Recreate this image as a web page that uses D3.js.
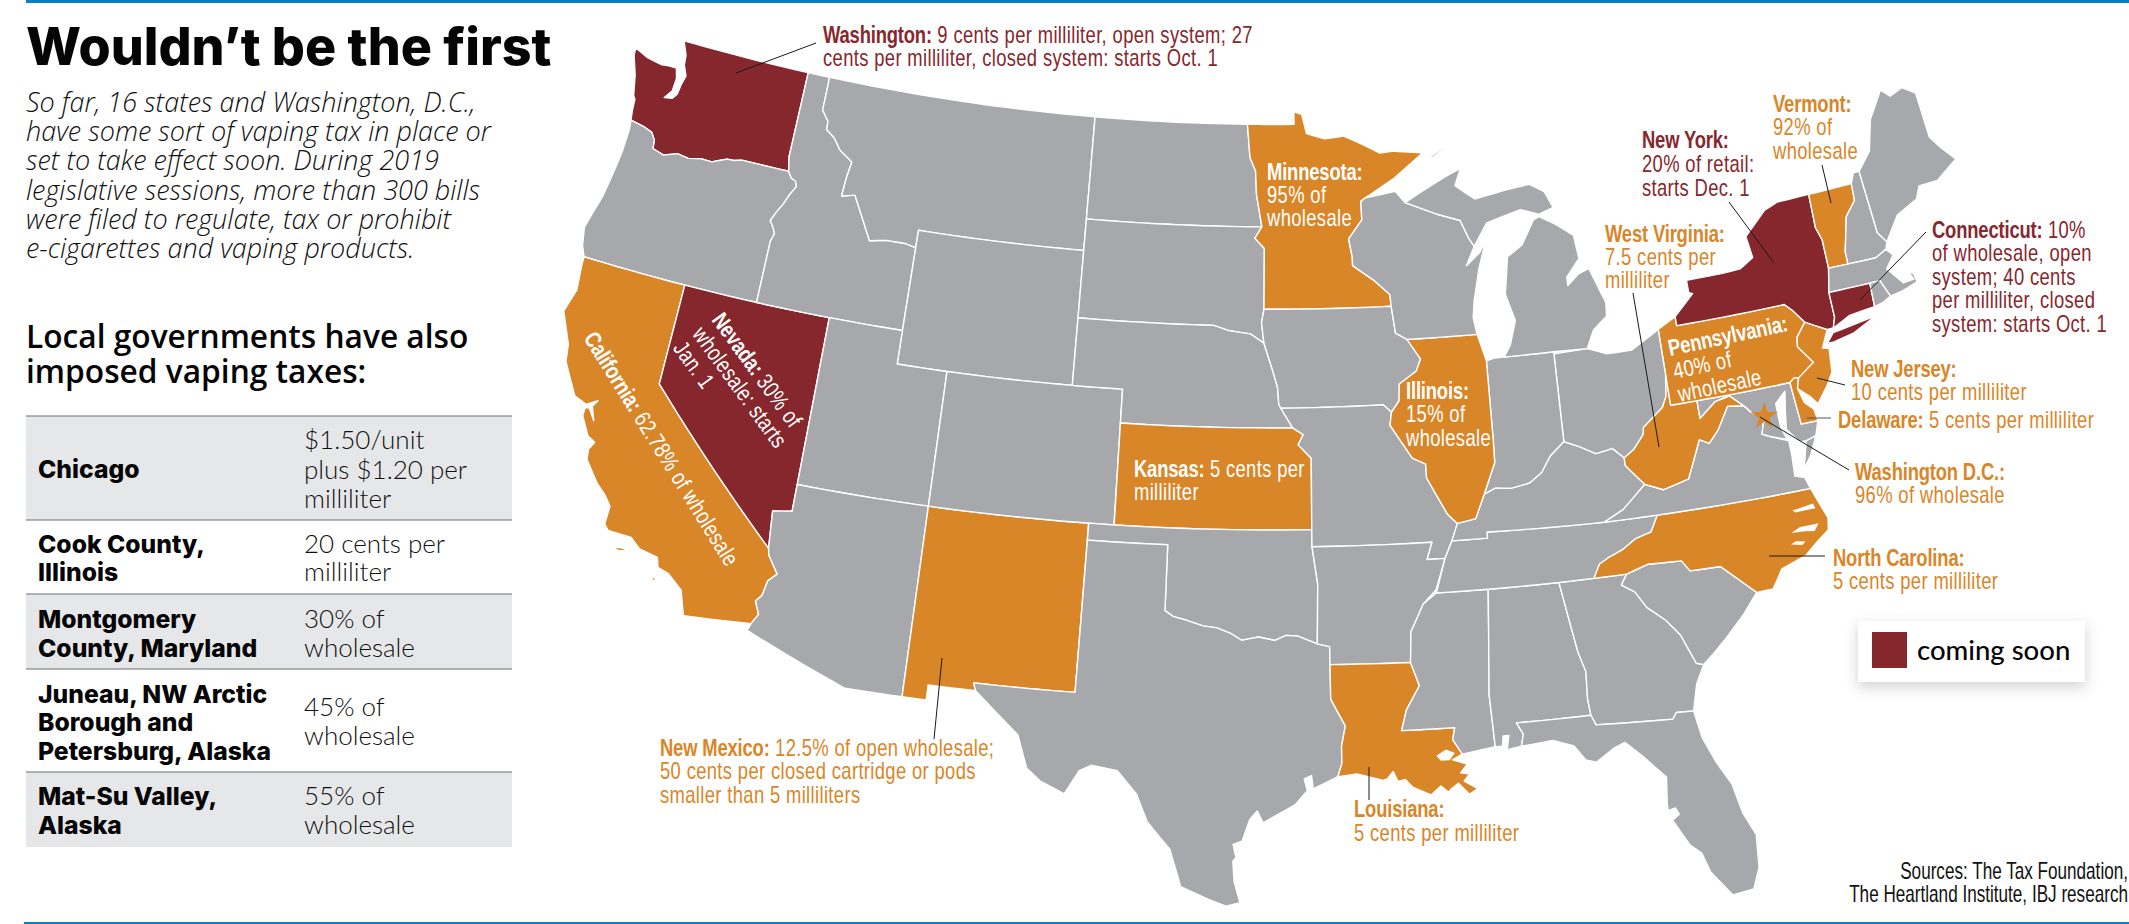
<!DOCTYPE html>
<html><head><meta charset="utf-8">
<script src="https://cdnjs.cloudflare.com/ajax/libs/d3/7.8.5/d3.min.js"></script>
<style>
html,body{margin:0;padding:0;background:#fff}
svg{display:block}
text{font-family:"Liberation Sans",sans-serif}
</style></head><body>
<svg id="c" width="2129" height="924"></svg>
<script>
// ---------- DATA ----------
const titleText = "Wouldn’t be the first";
const introLines = ["So far, 16 states and Washington, D.C.,","have some sort of vaping tax in place or","set to take effect soon. During 2019","legislative sessions, more than 300 bills","were filed to regulate, tax or prohibit","e-cigarettes and vaping products."];
const localHeading = ["Local governments have also","imposed vaping taxes:"];
const tablePlaces = [["Chicago"],["Cook County,","Illinois"],["Montgomery","County, Maryland"],["Juneau, NW Arctic","Borough and","Petersburg, Alaska"],["Mat-Su Valley,","Alaska"]];
const tableTaxes = [["$1.50/unit","plus $1.20 per","milliliter"],["20 cents per","milliliter"],["30% of","wholesale"],["45% of","wholesale"],["55% of","wholesale"]];
const sourceLines = ["Sources: The Tax Foundation,","The Heartland Institute, IBJ research"];
const legendLabel = "coming soon";
const comingSoon = ["WA","NV","NY","CT"];
const inPlace = ["CA","NM","KS","MN","IL","LA","WV","PA","NJ","DE","NC","VT"];
const dcLonLat = [-77.03,38.9];

// State outlines, lon,lat
const WA = ["-122.76,49 -117.03,49 -117.04,46.42 -116.92,45.995 -118.98,46 -119.3,45.93 -119.6,45.92 -120.2,45.73 -120.65,45.74 -121.2,45.65 -121.7,45.7 -122.25,45.55 -122.76,45.65 -122.8,45.9 -123,46.1 -123.4,46.2 -124,46.27 -124.07,46.6 -124.1,46.9 -124.2,47 -124.4,47.6 -124.7,48.15 -124.73,48.38 -124.1,48.2 -123.4,48.12 -123.1,48.15 -122.75,48.15 -122.62,47.85 -122.65,47.45 -122.9,47.2 -122.55,47.25 -122.4,47.4 -122.35,47.7 -122.25,48 -122.45,48.3 -122.5,48.6"];
const OR = ["-124,46.27 -123.4,46.2 -123,46.1 -122.8,45.9 -122.76,45.65 -122.25,45.55 -121.7,45.7 -121.2,45.65 -120.65,45.74 -120.2,45.73 -119.6,45.92 -119.3,45.93 -118.98,46 -116.92,45.995 -116.76,45.82 -116.54,45.75 -116.46,45.6 -116.67,45.32 -116.85,45 -117.04,44.75 -117.22,44.45 -117.03,44.25 -116.93,44.1 -117.03,43.85 -117.03,42 -124.21,42 -124.4,42.3 -124.55,42.84 -124.4,43.3 -124.2,43.9 -124.07,44.6 -123.97,45.3 -123.95,46"];
const CA = ["-124.21,42 -120,42 -120,39 -114.63,35 -114.57,34.8 -114.14,34.3 -114.43,34.05 -114.53,33.6 -114.72,33.4 -114.52,33.03 -114.72,32.72 -117.12,32.53 -117.25,32.85 -117.4,33.25 -118,33.65 -118.4,33.75 -118.5,34.03 -119.2,34.15 -119.6,34.42 -120.47,34.45 -120.65,34.6 -120.63,35.15 -120.9,35.42 -121.3,35.7 -121.9,36.3 -121.95,36.6 -121.8,36.85 -122.1,36.97 -122.5,37.5 -122.5,37.75 -122.35,37.78 -122.05,37.45 -122.25,37.85 -122.1,38.05 -122.5,37.85 -123,38 -123.7,38.9 -123.8,39.4 -124.35,40.3 -124.1,41 -124.2,41.75",
  "-120.2,34 -119.85,34.05 -119.55,34.03 -119.9,33.95","-118.6,33.47 -118.35,33.4 -118.45,33.33","-118.6,33.03 -118.4,32.85 -118.35,32.82 -118.55,33"];
const NV = ["-120,42 -114.04,42 -114.04,36.2 -114.75,36.1 -114.63,35 -120,39"];
const ID = ["-117.03,49 -116.05,49 -116.05,48 -115.72,47.7 -115.7,47.45 -115.3,47.25 -114.95,46.93 -114.35,46.65 -114.45,46.15 -114.5,45.6 -113.95,45.7 -113.45,45.05 -113,44.45 -112.3,44.55 -111.5,44.55 -111.05,44.48 -111.05,42 -117.03,42 -117.03,43.85 -116.93,44.1 -117.03,44.25 -117.22,44.45 -117.04,44.75 -116.85,45 -116.67,45.32 -116.46,45.6 -116.54,45.75 -116.76,45.82 -116.92,45.995 -117.04,46.42"];
const MT = ["-116.05,49 -104.05,49 -104.05,45 -111.05,45 -111.05,44.48 -111.5,44.55 -112.3,44.55 -113,44.45 -113.45,45.05 -113.95,45.7 -114.5,45.6 -114.45,46.15 -114.35,46.65 -114.95,46.93 -115.3,47.25 -115.7,47.45 -115.72,47.7 -116.05,48"];
const WY = ["-111.05,45 -104.05,45 -104.05,41 -111.05,41"];
const UT = ["-114.04,42 -111.05,42 -111.05,41 -109.05,41 -109.05,37 -114.04,37"];
const AZ = ["-114.04,37 -109.05,37 -109.05,31.33 -111.07,31.33 -114.81,32.5 -114.72,32.72 -114.52,33.03 -114.72,33.4 -114.53,33.6 -114.43,34.05 -114.14,34.3 -114.57,34.8 -114.63,35 -114.75,36.1 -114.04,36.2"];
const NM = ["-109.05,37 -103,37 -103.04,32 -106.62,32 -106.53,31.78 -108.2,31.78 -108.2,31.33 -109.05,31.33"];
const CO = ["-109.05,41 -102.05,41 -102.05,37 -109.05,37"];
const ND = ["-104.05,49 -97.23,49 -97.1,48 -96.85,47.6 -96.8,46.9 -96.56,45.94 -104.05,45.94"];
const SD = ["-104.05,45.94 -96.56,45.94 -96.85,45.6 -96.45,45.3 -96.45,43.5 -96.55,43.1 -96.45,42.5 -97,42.77 -97.85,42.85 -98.5,43 -104.05,43"];
const NE = ["-104.05,43 -98.5,43 -97.85,42.85 -97,42.77 -96.45,42.5 -96.1,41.7 -95.9,41.2 -95.85,40.7 -95.77,40.58 -95.31,40 -102.05,40 -102.05,41 -104.05,41"];
const KS = ["-102.05,40 -95.31,40 -94.9,39.8 -95.1,39.5 -94.6,39.1 -94.62,37 -102.04,37"];
const OK = ["-103,37 -94.62,37 -94.62,36.5 -94.43,35.4 -94.48,33.64 -95.2,33.88 -95.6,33.9 -96,33.75 -96.6,33.85 -97.2,33.75 -97.6,33.95 -98.1,34.1 -98.6,34.15 -99.2,34.3 -99.7,34.4 -100,34.56 -100,36.5 -103,36.5"];
const TX = ["-103,36.5 -100,36.5 -100,34.56 -99.7,34.4 -99.2,34.3 -98.6,34.15 -98.1,34.1 -97.6,33.95 -97.2,33.75 -96.6,33.85 -96,33.75 -95.6,33.9 -95.2,33.88 -94.48,33.64 -94.04,33.55 -94.04,32 -93.55,31.2 -93.7,30.6 -93.7,30.1 -93.85,29.7 -94.7,29.35 -94.75,29.75 -95,29.65 -94.9,29.3 -95.3,28.9 -96.4,28.35 -96.6,28.7 -96.85,28.45 -97.1,27.8 -97.4,27.7 -97.3,27.3 -97.4,27.2 -97.35,26.6 -97.15,25.96 -97.6,25.85 -98.2,26.05 -99.1,26.4 -99.5,27.5 -100.3,28.3 -100.7,29.1 -101.4,29.77 -102.3,29.88 -102.7,29.7 -103.15,28.98 -104,29.3 -104.5,29.65 -104.9,30.6 -106,31.4 -106.53,31.78 -106.62,32 -103.04,32"];
const MN = ["-97.23,49 -95.15,49 -95.15,49.38 -94.8,49.3 -94.6,48.72 -93.8,48.55 -92.95,48.62 -92,48.3 -91.4,48.07 -90.75,48.1 -89.5,48 -90.8,47.3 -91.5,47 -92.1,46.75 -92.3,46.65 -92.29,46.1 -92.88,45.55 -92.75,45 -92.75,44.75 -91.9,44.3 -91.25,43.85 -91.22,43.5 -96.45,43.5 -96.45,45.3 -96.85,45.6 -96.56,45.94 -96.8,46.9 -96.85,47.6 -97.1,48"];
const IA = ["-96.45,43.5 -91.22,43.5 -91.1,42.7 -90.65,42.5 -90.15,41.9 -90.35,41.55 -91.05,41.2 -91.1,40.7 -91.42,40.38 -91.73,40.61 -95.77,40.58 -95.85,40.7 -95.9,41.2 -96.1,41.7 -96.45,42.5 -96.55,43.1"];
const MO = ["-95.77,40.58 -91.73,40.61 -91.42,40.38 -91.5,40 -90.7,39 -90.2,38.8 -90.2,38.4 -89.5,37.3 -89.15,37 -89.4,36.5 -89.7,36 -90.37,36 -90.15,36.5 -94.62,36.5 -94.62,37 -94.6,39.1 -95.1,39.5 -94.9,39.8 -95.31,40"];
const AR = ["-94.62,36.5 -90.15,36.5 -90.37,36 -89.7,36 -90.1,35.1 -90.6,34.7 -91.1,33.9 -91.17,33 -94.04,33.02 -94.04,33.55 -94.48,33.64 -94.43,35.4"];
const LA = ["-94.04,33.02 -91.17,33 -90.9,32.3 -91.4,31.6 -91.6,31 -89.75,31 -89.85,30.65 -89.55,30.2 -89.9,30.05 -89.4,29.9 -89.65,29.65 -89.35,29.6 -89.55,29.4 -89.1,29.15 -89.4,29 -89.75,29.35 -90,29.2 -90.1,29.1 -90.35,29.3 -90.7,29.05 -91.3,29.3 -91.55,29.55 -91.8,29.5 -91.95,29.8 -92.15,29.6 -92.3,29.55 -93.2,29.77 -93.85,29.7 -93.7,30.1 -93.7,30.6 -93.55,31.2 -94.04,32"];
const MS = ["-91.17,33 -90.9,32.3 -91.4,31.6 -91.6,31 -89.75,31 -89.85,30.65 -89.55,30.2 -88.4,30.35 -88.47,31.9 -88.2,35 -90.1,35 -90.6,34.7 -91.1,33.9"];
const AL = ["-88.2,35 -85.6,35 -85.2,32.9 -85,32.3 -85.05,31.5 -85,31 -87.6,31 -87.4,30.65 -87.5,30.3 -88,30.23 -87.9,30.65 -88.1,30.65 -88.15,30.35 -88.4,30.35 -88.47,31.9"];
const GA = ["-85.6,35 -83.11,35 -83.35,34.7 -82.9,34.45 -82.55,33.95 -81.95,33.5 -81.5,33 -81.1,32.1 -80.85,32.03 -81.2,31.5 -81.45,30.72 -82.05,30.75 -82.2,30.57 -84.86,30.7 -85,31 -85.05,31.5 -85,32.3 -85.2,32.9"];
const FL = ["-87.6,31 -85,31 -84.86,30.7 -82.2,30.57 -82.05,30.75 -81.45,30.72 -81.3,29.9 -80.95,29.1 -80.55,28.4 -80.35,27.5 -80.03,26.8 -80.12,25.8 -80.4,25.2 -81.1,25.12 -81.7,25.9 -81.9,26.5 -82.25,26.8 -82.7,27.6 -82.45,27.75 -82.55,27.95 -82.8,27.9 -82.8,28.1 -82.7,28.9 -83.4,29.6 -83.95,30.08 -84.35,29.95 -85,29.6 -85.35,29.7 -85.7,30.15 -86.4,30.38 -87.5,30.3 -87.4,30.65"];
const SC = ["-83.11,35 -82.3,35.2 -81.05,35.15 -80.8,34.82 -79.68,34.8 -78.55,33.86 -79.15,33.3 -79.9,32.7 -80.45,32.3 -80.85,32.03 -81.1,32.1 -81.5,33 -81.95,33.5 -82.55,33.95 -82.9,34.45 -83.35,34.7"];
const NC = ["-84.32,35 -83.11,35 -82.3,35.2 -81.05,35.15 -80.8,34.82 -79.68,34.8 -78.55,33.86 -77.95,33.87 -77.5,34.4 -76.55,34.65 -76,35 -75.55,35.25 -75.47,35.6 -75.87,36.55 -81.68,36.59 -82,36.13 -82.6,36 -83.1,35.75 -83.7,35.55 -84.05,35.4"];
const TN = ["-90.1,35 -88.2,35 -85.6,35 -84.32,35 -84.05,35.4 -83.7,35.55 -83.1,35.75 -82.6,36 -82,36.13 -81.68,36.59 -83.68,36.6 -88.07,36.68 -88.07,36.5 -89.4,36.5 -89.7,36"];
const KY = ["-89.4,36.5 -88.07,36.5 -88.07,36.68 -83.68,36.6 -82.9,36.9 -81.97,37.54 -82.6,38.17 -82.6,38.4 -83,38.72 -83.65,38.63 -84.25,38.9 -84.82,39.1 -85.4,38.73 -85.8,38.27 -86.3,38 -87,37.9 -87.6,37.95 -88.05,37.8 -88.45,37.1 -89.15,37"];
const VA = ["-83.68,36.6 -81.68,36.59 -75.87,36.55 -76,36.9 -76.35,37 -76.3,37.6 -76.3,38.05 -77,38.3 -77.25,38.4 -77.05,38.85 -77.5,39.1 -77.72,39.32 -78.35,39.4 -78.87,38.77 -79.3,38.42 -79.65,38.58 -80.3,37.5 -81.3,37.3 -81.97,37.54 -82.9,36.9","-75.25,38.03 -75.65,37.95 -75.95,37.15 -75.6,37.5"];
const WV = ["-81.97,37.54 -81.3,37.3 -80.3,37.5 -79.65,38.58 -79.3,38.42 -78.87,38.77 -78.35,39.4 -77.72,39.32 -78.2,39.69 -78.8,39.6 -79.48,39.2 -79.48,39.72 -80.52,39.72 -80.52,40.64 -80.65,40 -80.85,39.7 -81.7,39.2 -81.75,39 -82.2,38.6 -82.6,38.4 -82.6,38.17"];
const MD = ["-79.48,39.72 -79.48,39.2 -78.8,39.6 -78.2,39.69 -77.72,39.32 -77.5,39.1 -77.05,38.85 -77.25,38.4 -77,38.3 -76.35,38.1 -76.5,38.5 -76.5,39.2 -76.05,39.5 -76.2,38.9 -76.3,38.4 -75.9,37.95 -75.65,37.95 -75.25,38.03 -75.05,38.45 -75.7,38.46 -75.79,39.72"];
const DE = ["-75.79,39.72 -75.6,39.83 -75.42,39.8 -75.55,39.5 -75.4,39.05 -75.1,38.8 -75.05,38.45 -75.7,38.46"];
const PA = ["-80.52,41.98 -79.76,42.27 -79.76,42 -75.35,42 -75.05,41.75 -74.7,41.36 -75.13,40.98 -75.2,40.7 -74.72,40.15 -75.42,39.8 -75.6,39.83 -75.79,39.72 -80.52,39.72"];
const NJ = ["-74.7,41.36 -73.9,41 -74.25,40.5 -74,40.45 -74.1,39.75 -74.4,39.4 -74.9,38.93 -75.15,39.2 -75.55,39.5 -75.42,39.8 -74.72,40.15 -75.2,40.7 -75.13,40.98"];
const NY = ["-79.76,42.27 -79.76,42 -75.35,42 -75.05,41.75 -74.7,41.36 -73.9,41 -73.65,41 -73.5,41.3 -73.49,42.05 -73.27,42.75 -73.25,43.6 -73.4,44 -73.35,45.01 -74.7,45 -75.3,44.85 -76.3,44.2 -76.2,43.55 -76.8,43.3 -77.6,43.27 -79.05,43.27 -79.05,42.9 -78.9,42.85","-74.02,40.6 -73.75,40.6 -72.9,40.72 -71.9,41.05 -72.6,40.98 -73.7,40.87"];
const VT = ["-73.35,45.01 -71.5,45.01 -71.55,44.5 -72.05,44.1 -72.45,43.1 -72.46,42.73 -73.27,42.75 -73.25,43.6 -73.4,44"];
const NH = ["-71.5,45.01 -71.3,45.3 -71.05,45.3 -70.98,43.4 -70.7,43.07 -70.82,42.87 -71.3,42.7 -72.46,42.73 -72.45,43.1 -72.05,44.1 -71.55,44.5"];
const ME = ["-71.05,45.3 -70.4,45.8 -70,46.7 -69.23,47.46 -68.9,47.2 -68.3,47.35 -67.8,47.07 -67.79,45.7 -67.45,45.3 -67,44.85 -68,44.4 -68.8,44.4 -69.05,44.05 -70,43.75 -70.7,43.07 -70.98,43.4"];
const MA = ["-73.49,42.05 -71.8,42.02 -71.38,42.02 -71.33,41.9 -71.13,41.5 -70.65,41.55 -69.95,41.7 -70,41.95 -70.2,42.07 -70.05,41.8 -70.5,41.78 -70.7,42 -71,42.3 -70.6,42.65 -70.82,42.87 -71.3,42.7 -73.27,42.75"];
const CT = ["-73.49,42.05 -71.8,42.02 -71.85,41.32 -72.9,41.25 -73.65,41 -73.5,41.3"];
const RI = ["-71.8,42.02 -71.38,42.02 -71.33,41.9 -71.13,41.5 -71.5,41.37 -71.85,41.32"];
const OH = ["-84.8,41.7 -83.45,41.73 -82.7,41.5 -81.7,41.5 -80.52,41.98 -80.52,40.64 -80.65,40 -80.85,39.7 -81.7,39.2 -81.75,39 -82.2,38.6 -82.6,38.4 -83,38.72 -83.65,38.63 -84.25,38.9 -84.82,39.1"];
const IN = ["-87.52,41.7 -87.2,41.76 -86.8,41.76 -84.8,41.76 -84.82,39.1 -85.4,38.73 -85.8,38.27 -86.3,38 -87,37.9 -87.6,37.95 -88.05,37.8 -87.55,38.7 -87.53,39.35"];
const IL = ["-90.65,42.5 -87.8,42.5 -87.52,41.7 -87.53,39.35 -87.55,38.7 -88.05,37.8 -88.45,37.1 -89.15,37 -89.5,37.3 -90.2,38.4 -90.2,38.8 -90.7,39 -91.5,40 -91.42,40.38 -91.1,40.7 -91.05,41.2 -90.35,41.55 -90.15,41.9"];
const WI = ["-92.1,46.75 -90.8,46.9 -90.4,46.55 -89.1,46.15 -88.1,45.9 -87.8,45.35 -87.6,45.1 -88,44.55 -87.4,44.9 -87.1,45.25 -87.5,44.4 -87.8,43.5 -87.9,43 -87.8,42.5 -90.65,42.5 -91.1,42.7 -91.22,43.5 -91.25,43.85 -91.9,44.3 -92.75,44.75 -92.75,45 -92.88,45.55 -92.29,46.1 -92.3,46.65"];
const MI = ["-84.8,41.76 -86.8,41.76 -86.5,42.1 -86.2,42.8 -86.5,43.6 -86.25,44.7 -85.6,45 -85,45.7 -84.75,45.78 -84.1,45.5 -83.4,45.1 -83.3,44.4 -83.9,43.9 -83.9,43.65 -83.4,43.95 -82.95,44.07 -82.45,43 -82.5,42.6 -83.1,42.25 -83.45,41.73",
  "-90.4,46.55 -89.1,46.15 -88.1,45.9 -87.8,45.35 -87.6,45.1 -87,45.75 -86.3,45.9 -85.5,46.05 -84.75,45.85 -84.1,46 -84.4,46.5 -85,46.77 -86.1,46.67 -87.4,46.5 -88.2,46.95 -87.9,47.45 -88.7,47.2 -89.7,46.83",
  "-89.2,47.85 -88.5,48.15 -88.45,48.12 -89.1,47.82"];
const stateOutlines = {WA,OR,CA,NV,ID,MT,WY,UT,AZ,NM,CO,ND,SD,NE,KS,OK,TX,MN,IA,MO,AR,LA,MS,AL,GA,FL,SC,NC,TN,KY,VA,WV,MD,DE,PA,NJ,NY,VT,NH,ME,MA,CT,RI,OH,IN,IL,WI,MI};
const waterBodies = ["-90.45,30.2 -90.1,30.37 -89.8,30.25 -90,30.05 -90.3,30.05",
  "-76.9,35.38 -76.4,35.35 -76.05,35.3 -75.85,35.5 -76.2,35.5 -76.55,35.5",
  "-76.7,36.02 -76.1,36.08 -75.9,36.1 -75.85,35.95 -76.6,35.95",
  "-77.0,35.05 -76.6,34.97 -76.45,35.05 -76.8,35.12"];

const annotations = [
 {key:"WA",tone:"soon",lines:[["Washington:"," 9 cents per milliliter, open system; 27"],["","cents per milliliter, closed system: starts Oct. 1"]]},
 {key:"VT",tone:"now",lines:[["Vermont:",""],["","92% of"],["","wholesale"]]},
 {key:"NY",tone:"soon",lines:[["New York:",""],["","20% of retail:"],["","starts Dec. 1"]]},
 {key:"WV",tone:"now",lines:[["West Virginia:",""],["","7.5 cents per"],["","milliliter"]]},
 {key:"CT",tone:"soon",lines:[["Connecticut:"," 10%"],["","of wholesale, open"],["","system; 40 cents"],["","per milliliter, closed"],["","system: starts Oct. 1"]]},
 {key:"NJ",tone:"now",lines:[["New Jersey:",""],["","10 cents per milliliter"]]},
 {key:"DE",tone:"now",lines:[["Delaware:"," 5 cents per milliliter"]]},
 {key:"DC",tone:"now",lines:[["Washington D.C.:",""],["","96% of wholesale"]]},
 {key:"NC",tone:"now",lines:[["North Carolina:",""],["","5 cents per milliliter"]]},
 {key:"LA",tone:"now",lines:[["Louisiana:",""],["","5 cents per milliliter"]]},
 {key:"NM",tone:"now",lines:[["New Mexico:"," 12.5% of open wholesale;"],["","50 cents per closed cartridge or pods"],["","smaller than 5 milliliters"]]},
 {key:"MN",tone:"in",lines:[["Minnesota:",""],["","95% of"],["","wholesale"]]},
 {key:"KS",tone:"in",lines:[["Kansas:"," 5 cents per"],["","milliliter"]]},
 {key:"IL",tone:"in",lines:[["Illinois:",""],["","15% of"],["","wholesale"]]},
 {key:"PA",tone:"in",lines:[["Pennsylvania:",""],["","40% of"],["","wholesale"]]},
 {key:"NV",tone:"in",lines:[["Nevada:"," 30% of"],["","wholesale: starts"],["","Jan. 1"]]},
 {key:"CA",tone:"in",lines:[["California:"," 62.78% of wholesale"]]}
];

// ---------- LAYOUT & STYLE ----------
const colors = {gray:"#a6a8ab",orange:"#d98628",red:"#86272d",blue:"#0a7fc4",band:"#e6e7e8",rule:"#6d6e71"};
const toneColor = {soon:colors.red,now:colors.orange,in:"#fff"};
const labelLayout = {
 WA:{x:823,y:43,dy:23.5}, VT:{x:1773,y:112,dy:23.5}, NY:{x:1642,y:148,dy:24}, WV:{x:1605,y:242,dy:23},
 CT:{x:1932,y:238,dy:23.5}, NJ:{x:1851,y:377,dy:23.5}, DE:{x:1838,y:428,dy:23.5}, DC:{x:1855,y:480,dy:23.5},
 NC:{x:1833,y:566,dy:23.5}, LA:{x:1354,y:817,dy:24}, NM:{x:660,y:756,dy:23.5}, MN:{x:1267,y:180,dy:23},
 KS:{x:1134,y:477,dy:23}, IL:{x:1406,y:399,dy:23.5},
 PA:{x:1670,y:356,dy:23.5,rot:-12}, NV:{x:711,y:320,dy:24,rot:54}, CA:{x:583,y:338,dy:24,rot:58}
};
const leaderLines = [
 {k:"WA",pts:[[816,43],[736,73]]},{k:"VT",pts:[[1822,165],[1831,203]]},{k:"NY",pts:[[1729,202],[1774,263]]},
 {k:"WV",pts:[[1633,293],[1659,447]]},{k:"CT",pts:[[1926,232],[1860,300]]},{k:"NJ",pts:[[1817,378],[1845,385]]},
 {k:"DE",pts:[[1807,418],[1831,418]]},{k:"DC",pts:[[1760,417],[1849,470]]},{k:"NC",pts:[[1769,556],[1825,556]]},
 {k:"LA",pts:[[1369,767],[1369,800]]},{k:"NM",pts:[[942,658],[934,739]]}
];
const tableBox = {x0:26,x1:512,col1:38,col2:304,rows:[416,520,594,669,772,847],
  base1:[[478],[553,581],[628,657],[703,731,760],[805,834]],
  base2:[[449,479,508],[553,581],[628,657],[716,745],[805,834]]};
const condensed = 0.8;

// ---------- DRAW ----------
const svg = d3.select("#c");
const defs = svg.append("defs");
const f = defs.append("filter").attr("id","sh").attr("x","-20%").attr("y","-30%").attr("width","140%").attr("height","170%");
f.append("feDropShadow").attr("dx",0).attr("dy",5).attr("stdDeviation",7).attr("flood-color","#000").attr("flood-opacity",0.18);

svg.append("rect").attr("x",26).attr("y",0).attr("width",2103).attr("height",3).attr("fill",colors.blue);
svg.append("rect").attr("x",24).attr("y",922).attr("width",2105).attr("height",2).attr("fill",colors.blue);

const projection = d3.geoAlbers().parallels([29.5,45.5]).rotate([96,0]).center([0,38]).scale(1930).translate([1275,496]);
const path = d3.geoPath(projection);

function parseRing(s){
  const pts = s.trim().split(/\s+/).map(p=>p.split(",").map(Number));
  const out = [];
  pts.concat([pts[0]]).forEach((p,i)=>{
    if(i>0){
      const q = pts[i-1], steps = Math.ceil(Math.max(Math.abs(p[0]-q[0]),Math.abs(p[1]-q[1]))/0.5);
      for(let t=1;t<steps;t++) out.push([q[0]+(p[0]-q[0])*t/steps,q[1]+(p[1]-q[1])*t/steps]);
    }
    out.push(p);
  });
  return out;
}
function toFeature(rings){
  const polys = rings.map(r=>{
    let c = parseRing(r);
    if(d3.geoArea({type:"Polygon",coordinates:[c]})>2*Math.PI) c = c.slice().reverse();
    return [c];
  });
  return {type:"Feature",geometry:{type:"MultiPolygon",coordinates:polys}};
}
function stateFill(k){
  if(comingSoon.includes(k)) return colors.red;
  if(inPlace.includes(k)) return colors.orange;
  return colors.gray;
}
const mapG = svg.append("g");
mapG.selectAll("path.state").data(Object.keys(stateOutlines)).join("path").attr("class","state")
  .attr("d",k=>path(toFeature(stateOutlines[k])))
  .attr("fill",stateFill).attr("stroke","#fff").attr("stroke-width",1.4).attr("stroke-linejoin","round");
mapG.selectAll("path.water").data(waterBodies).join("path").attr("class","water")
  .attr("d",r=>path(toFeature([r]))).attr("fill","#fff");
const dcPt = projection(dcLonLat);
mapG.append("path").attr("d",d3.symbol(d3.symbolStar,230)()).attr("transform",`translate(${dcPt[0]},${dcPt[1]})`).attr("fill",colors.orange);

svg.append("g").selectAll("line").data(leaderLines).join("line")
  .attr("x1",d=>d.pts[0][0]).attr("y1",d=>d.pts[0][1]).attr("x2",d=>d.pts[1][0]).attr("y2",d=>d.pts[1][1])
  .attr("stroke",d=>d.k==="DE"?"#555":"#1a1a1a").attr("stroke-width",1);

annotations.forEach(a=>{
  const L = labelLayout[a.key];
  const g = svg.append("g").attr("transform",`translate(${L.x},${L.y})`+(L.rot?` rotate(${L.rot})`:"")+` scale(${condensed},1)`);
  a.lines.forEach((ln,i)=>{
    const t = g.append("text").attr("y",i*L.dy).attr("font-size",23).attr("fill",toneColor[a.tone]);
    if(ln[0]) t.append("tspan").attr("font-weight",700).attr("letter-spacing",-0.2).text(ln[0]);
    if(ln[1]) t.append("tspan").attr("letter-spacing",0.45).text(ln[1]);
  });
});

// left column
const body = "'Open Sans', sans-serif", light = "Lato, sans-serif", heavy = "Inter, sans-serif";
svg.append("text").attr("x",26).attr("y",65).attr("font-size",52).attr("font-weight",800).attr("fill","#050505").style("font-family",heavy).text(titleText);
svg.selectAll("text.intro").data(introLines).join("text").attr("class","intro").attr("x",26)
  .attr("y",(d,i)=>112+i*29.2).attr("font-size",27).attr("font-style","italic").attr("font-weight",300).attr("fill","#111").style("font-family",body).text(d=>d);
svg.selectAll("text.head").data(localHeading).join("text").attr("class","head").attr("x",26)
  .attr("y",(d,i)=>348+i*35).attr("font-size",31.7).attr("font-weight",600).attr("fill","#050505").style("font-family",body).text(d=>d);

const tb = svg.append("g");
tableBox.rows.slice(0,-1).forEach((y,i)=>{
  if(i%2===0) tb.append("rect").attr("x",tableBox.x0).attr("y",y).attr("width",tableBox.x1-tableBox.x0).attr("height",tableBox.rows[i+1]-y).attr("fill",colors.band);
});
tableBox.rows.slice(0,-1).forEach(y=>{
  tb.append("line").attr("x1",tableBox.x0).attr("x2",tableBox.x1).attr("y1",y).attr("y2",y).attr("stroke",colors.rule).attr("stroke-width",1.2);
});
tablePlaces.forEach((lines,i)=>lines.forEach((s,j)=>{
  tb.append("text").attr("x",tableBox.col1).attr("y",tableBox.base1[i][j]).attr("font-size",24.7).attr("font-weight",800).attr("fill","#050505").style("font-family",heavy).text(s);
}));
tableTaxes.forEach((lines,i)=>lines.forEach((s,j)=>{
  tb.append("text").attr("x",tableBox.col2).attr("y",tableBox.base2[i][j]).attr("font-size",26).attr("font-weight",300).attr("fill","#111").style("font-family",light).text(s);
}));

// legend
svg.append("rect").attr("x",1858).attr("y",621).attr("width",227).attr("height",61).attr("fill","#fff").attr("filter","url(#sh)");
svg.append("rect").attr("x",1872).attr("y",632).attr("width",35).attr("height",36).attr("fill",colors.red);
svg.append("text").attr("x",1917).attr("y",660).attr("font-size",27.5).attr("font-weight",500).attr("fill","#050505").style("font-family",light).text(legendLabel);

// sources
const srcG = svg.append("g").attr("transform","translate(2128,0) scale(0.745,1)");
srcG.selectAll("text.src").data(sourceLines).join("text").attr("class","src").attr("x",0).attr("text-anchor","end")
  .attr("y",(d,i)=>879+i*23).attr("font-size",23).attr("fill","#111").text(d=>d);
</script>
</body></html>
